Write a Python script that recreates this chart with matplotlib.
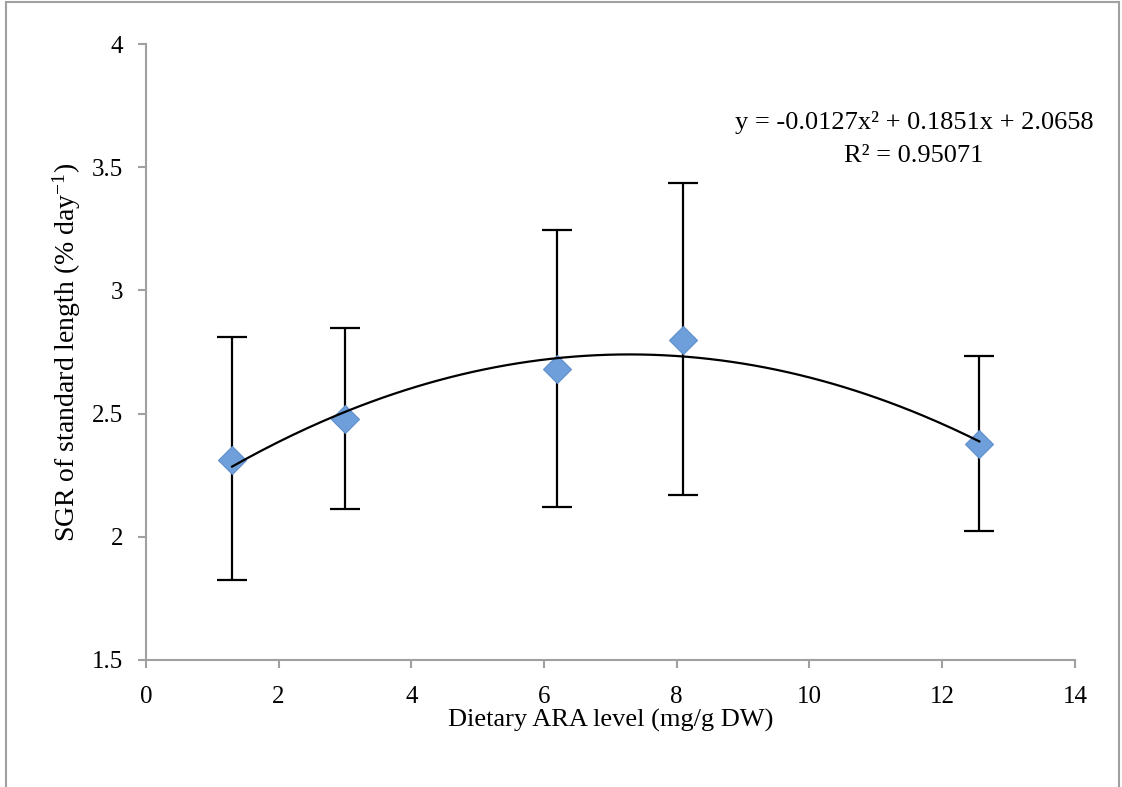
import matplotlib
matplotlib.use("Agg")
import matplotlib.pyplot as plt
import numpy as np
from matplotlib.patches import Rectangle

# dados
ara = [1.30, 3.00, 6.20, 8.09, 12.56]
sgr = [2.31, 2.478, 2.68, 2.80, 2.378]
err_up = [2.81, 2.849, 3.246, 3.435, 2.733]
err_lo = [1.825, 2.112, 2.121, 2.168, 2.025]
coef = [-0.0127, 0.1851, 2.0658]
eq_text = "y = -0.0127x² + 0.1851x + 2.0658"
r2_text = "R² = 0.95071"

plt.rcParams['font.family'] = ['Liberation Serif', 'DejaVu Serif']
plt.rcParams['mathtext.fontset'] = 'custom'
plt.rcParams['mathtext.rm'] = 'Liberation Serif'
plt.rcParams['mathtext.it'] = 'Liberation Serif:italic'

fig = plt.figure(figsize=(11.22, 7.87), dpi=100)
ax = fig.add_axes([0.130, 0.1614, 0.828, 0.7826])

sgr = np.array(sgr)
yerr = [sgr - np.array(err_lo), np.array(err_up) - sgr]

# barras de erro
ax.errorbar(ara, sgr, yerr=yerr, fmt='none', ecolor='black', elinewidth=1.6,
            capsize=11, capthick=1.6, zorder=2)
# pontos
ax.plot(ara, sgr, 'D', markersize=14, color='#6f9fda', markeredgecolor='#5f8fca',
        markeredgewidth=0.8, zorder=3)

# linha de tendencia polinomial
xx = np.linspace(ara[0], ara[-1], 200)
ax.plot(xx, np.polyval(coef, xx), color='black', linewidth=1.6, zorder=4)

ax.set_xlim(0, 14)
ax.set_ylim(1.5, 4)
ax.set_xticks(range(0, 15, 2))
ax.set_yticks([1.5, 2, 2.5, 3, 3.5, 4])
ax.set_yticklabels(['1.5', '2', '2.5', '3', '3.5', '4'])

for s in ['top', 'right']:
    ax.spines[s].set_visible(False)
for s in ['left', 'bottom']:
    ax.spines[s].set_color('#a0a0a0')
    ax.spines[s].set_linewidth(1.5)
ax.tick_params(direction='out', length=5.5, width=1.5, color='#a0a0a0',
               labelsize=18)
ax.tick_params(axis='x', pad=13)
ax.tick_params(axis='y', pad=11)

ax.set_xlabel("Dietary ARA level (mg/g DW)", fontsize=19, labelpad=1)
ax.set_ylabel(r"SGR of standard length (% day$^{-1}$)", fontsize=20, labelpad=6)

fig.text(914 / 1122, 1 - 122 / 787, eq_text, ha='center', va='center', fontsize=19)
fig.text(914 / 1122, 1 - 156 / 787, r2_text, ha='center', va='center', fontsize=19)

# moldura do grafico
fig.patches.append(Rectangle((6 / 1122, -0.02), 1113 / 1122, 1 - 2 / 787 + 0.02,
                             transform=fig.transFigure, fill=False,
                             edgecolor='#a0a0a0', linewidth=1.5))

fig.savefig("out.png", dpi=100)
